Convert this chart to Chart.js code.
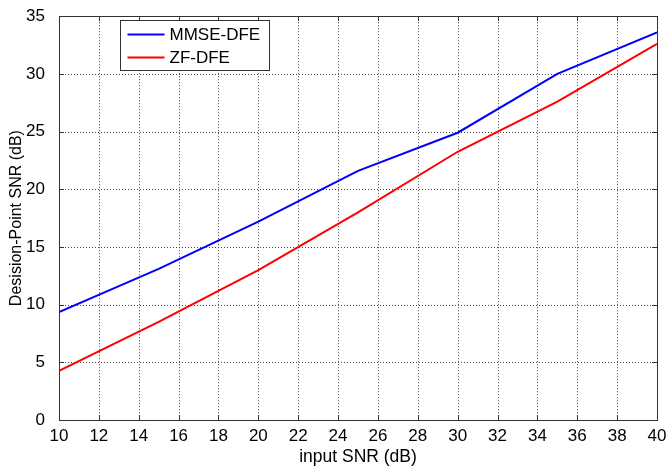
<!DOCTYPE html>
<html>
<head>
<meta charset="utf-8">
<script src="https://cdn.jsdelivr.net/npm/chart.js@4/dist/chart.umd.min.js"></script>
<style>
  body { margin: 0; background: #fff; }
  #snr-chart { display: block; }
</style>
</head>
<body>
<canvas id="snr-chart" width="668" height="469"></canvas>
<script>
// input SNR (dB) and decision-point SNR for both equalizers
const inputSnr = [10, 15, 20, 25, 30, 35, 40];
const mmseDfe = [9.35, 13.1, 17.2, 21.6, 24.9, 30.0, 33.6];
const zfDfe = [4.25, 8.5, 13.0, 18.0, 23.25, 27.6, 32.6];

const xTicks = [10, 12, 14, 16, 18, 20, 22, 24, 26, 28, 30, 32, 34, 36, 38, 40];
const yTicks = [0, 5, 10, 15, 20, 25, 30, 35];

const seriesNames = ['MMSE-DFE', 'ZF-DFE'];
const seriesColors = ['#0000ff', '#ff0000'];

const toPoints = (ys) => inputSnr.map((x, i) => ({ x: x, y: ys[i] }));

const fontFamily = '"Liberation Sans", Arial, sans-serif';

// dotted grid under the curves
const dottedGrid = {
  id: 'dottedGrid',
  beforeDatasetsDraw(chart) {
    const ctx = chart.ctx;
    const a = chart.chartArea;
    const xs = chart.scales.x;
    const ys = chart.scales.y;
    ctx.save();
    ctx.strokeStyle = '#444';
    ctx.lineWidth = 1;
    ctx.setLineDash([1, 2]);
    ctx.beginPath();
    xTicks.forEach(v => {
      const px = Math.round(xs.getPixelForValue(v)) + 0.5;
      ctx.moveTo(px, a.top); ctx.lineTo(px, a.bottom);
    });
    yTicks.forEach(v => {
      const py = Math.round(ys.getPixelForValue(v)) + 0.5;
      ctx.moveTo(a.left, py); ctx.lineTo(a.right, py);
    });
    ctx.stroke();
    ctx.restore();
  }
};

// box around the plot, inner tick marks on all sides, legend in the corner
const frameAndLegend = {
  id: 'frameAndLegend',
  afterDraw(chart) {
    const ctx = chart.ctx;
    const a = chart.chartArea;
    const xs = chart.scales.x;
    const ys = chart.scales.y;
    ctx.save();
    ctx.strokeStyle = '#333';
    ctx.lineWidth = 1;
    ctx.beginPath();
    xTicks.forEach(v => {
      const px = Math.round(xs.getPixelForValue(v)) + 0.5;
      ctx.moveTo(px, a.bottom); ctx.lineTo(px, a.bottom - 5);
      ctx.moveTo(px, a.top); ctx.lineTo(px, a.top + 5);
    });
    yTicks.forEach(v => {
      const py = Math.round(ys.getPixelForValue(v)) + 0.5;
      ctx.moveTo(a.left, py); ctx.lineTo(a.left + 5, py);
      ctx.moveTo(a.right, py); ctx.lineTo(a.right - 5, py);
    });
    ctx.stroke();
    ctx.strokeRect(Math.round(a.left) + 0.5, Math.round(a.top) + 0.5,
      Math.round(a.right - a.left), Math.round(a.bottom - a.top));

    // legend
    const lx = 120.5, ly = 20.5, lw = 149, lh = 50;
    ctx.fillStyle = '#fff';
    ctx.fillRect(lx, ly, lw, lh);
    ctx.strokeStyle = '#333';
    ctx.strokeRect(lx, ly, lw, lh);
    ctx.font = '17px ' + fontFamily;
    ctx.textBaseline = 'middle';
    seriesNames.forEach((name, i) => {
      const y = ly + 14 + i * 23;
      ctx.strokeStyle = seriesColors[i];
      ctx.lineWidth = 2;
      ctx.beginPath();
      ctx.moveTo(lx + 7, y);
      ctx.lineTo(lx + 44, y);
      ctx.stroke();
      ctx.fillStyle = '#000';
      ctx.fillText(name, lx + 49, y + 1);
    });
    ctx.restore();
  }
};

const tickFont = { family: fontFamily, size: 17 };

new Chart(document.getElementById('snr-chart'), {
  type: 'line',
  data: {
    datasets: [
      {
        label: seriesNames[0],
        data: toPoints(mmseDfe),
        borderColor: seriesColors[0],
        borderWidth: 2,
        pointRadius: 0,
        tension: 0,
        fill: false
      },
      {
        label: seriesNames[1],
        data: toPoints(zfDfe),
        borderColor: seriesColors[1],
        borderWidth: 2,
        pointRadius: 0,
        tension: 0,
        fill: false
      }
    ]
  },
  options: {
    responsive: false,
    animation: false,
    layout: { padding: { top: 13, right: 11, left: 0, bottom: 0 } },
    scales: {
      x: {
        type: 'linear',
        min: 10,
        max: 40,
        afterBuildTicks: (scale) => { scale.ticks = xTicks.map(v => ({ value: v })); },
        afterFit: (scale) => { scale.height = 49; },
        ticks: { color: '#000', font: tickFont, padding: -2, maxRotation: 0, autoSkip: false },
        grid: { display: false },
        border: { display: false },
        title: { display: true, text: 'input SNR (dB)', color: '#000', font: { family: fontFamily, size: 17.5 }, padding: { top: 1, bottom: 1 } }
      },
      y: {
        min: 0,
        max: 35,
        afterBuildTicks: (scale) => { scale.ticks = yTicks.map(v => ({ value: v })); },
        afterFit: (scale) => { scale.width = 59; },
        ticks: { color: '#000', font: tickFont, padding: 6, autoSkip: false },
        grid: { display: false },
        border: { display: false },
        title: { display: true, text: 'Desision-Point SNR (dB)', color: '#000', font: { family: fontFamily, size: 16 }, padding: { top: 7, bottom: 0 } }
      }
    },
    plugins: {
      legend: { display: false },
      tooltip: { enabled: false }
    }
  },
  plugins: [dottedGrid, frameAndLegend]
});
</script>
</body>
</html>
